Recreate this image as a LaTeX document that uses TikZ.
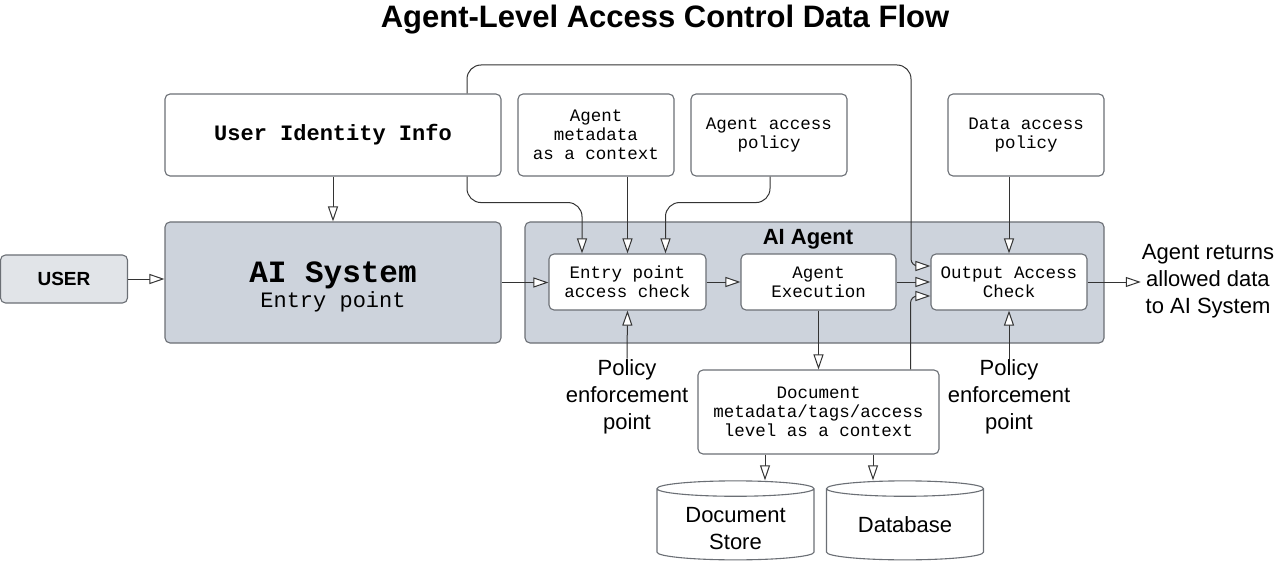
\documentclass[tikz,border=0pt]{standalone}
\usepackage{fontspec}
\setmainfont{Liberation Sans}
\setmonofont{Liberation Mono}
\usetikzlibrary{arrows.meta,shapes.geometric}

\definecolor{boxline}{HTML}{6B6F75}
\definecolor{sysfill}{HTML}{CDD3DC}
\definecolor{userfill}{HTML}{E1E4E8}
\definecolor{wire}{HTML}{333333}

\tikzset{
  box/.style={draw=boxline, line width=1.1pt, rounded corners=5pt, fill=white, align=center,
    inner sep=0pt, font=\fontsize{17.5}{19}\selectfont\ttfamily},
  grouped/.style={box, fill=sysfill},
  flow/.style={draw=wire, line width=1pt, rounded corners=14pt,
    -{Triangle[length=15pt,width=10pt,fill=white]}},
  lbl/.style={align=center, inner sep=1pt, font=\fontsize{22}{27}\selectfont},
  dbstore/.style={cylinder, shape border rotate=90, draw=boxline, line width=1.1pt, fill=white,
    text width=110pt, aspect=0.14, minimum width=157pt, minimum height=79pt, inner sep=0pt}
}

\begin{document}
\begin{tikzpicture}[x=1pt, y=-1pt]
                \useasboundingbox (0,0) rectangle (1280,572);

                % Title
                \node[font=\fontsize{31}{34}\selectfont\bfseries] (title) at (665,20) {Agent-Level Access Control Data Flow};

                % Containers
                \node[grouped, minimum width=579pt, minimum height=121pt] (agent) at (814.5,282.5) {};
                \node[font=\fontsize{22}{26}\selectfont\bfseries] (agentlbl) at (808,239) {AI Agent};
                \node[grouped, minimum width=336pt, minimum height=121pt,
                  label={[align=center, yshift=-4.5pt, font=\fontsize{22}{28}\selectfont\ttfamily]center:{{\fontsize{31}{28}\selectfont\bfseries AI System}\\[-3pt]Entry point}}] (aisys) at (333,282.5) {};
                \node[box, fill=userfill, minimum width=127pt, minimum height=48pt, font=\fontsize{19}{22}\selectfont\bfseries] (user) at (64,279) {USER};

                % Top row
                \node[box, minimum width=336pt, minimum height=82pt, font=\fontsize{22}{26}\selectfont\ttfamily\bfseries] (uid) at (333,135) {User Identity Info};
                \node[box, minimum width=156pt, minimum height=82pt] (meta) at (596,135) {Agent\\metadata\\as a context};
                \node[box, minimum width=156pt, minimum height=82pt] (apol) at (769,135) {Agent access\\policy};
                \node[box, minimum width=156pt, minimum height=82pt] (dpol) at (1026,135) {Data access\\policy};

                % Checks
                \node[box, minimum width=157pt, minimum height=56pt] (entry) at (627.5,282) {Entry point\\access check};
                \node[box, minimum width=155pt, minimum height=56pt] (exec) at (818.5,282) {Agent\\Execution};
                \node[box, minimum width=156pt, minimum height=56pt] (out) at (1009,282) {Output Access\\Check};

                % Lower part
                \node[box, minimum width=241pt, minimum height=84pt] (doc) at (818.5,412) {Document\\metadata/tags/access\\level as a context};
                \node[dbstore, label={[lbl, yshift=-4.5pt]center:{Document\\Store}}] (store) at (735.5,524.5) {};
                \node[dbstore, label={[lbl]center:Database}] (db) at (905,524.5) {};
                \node[lbl] (pe1) at (627,397) {Policy\\enforcement\\point};
                \node[lbl] (pe2) at (1009,397) {Policy\\enforcement\\point};
                \node[lbl] (ret) at (1208,281) {Agent returns\\allowed data\\to AI System};

                % Connectors
                \draw[flow] (user.east) -- (user.east -| aisys.west);
                \draw[flow] (uid.south) -- (aisys.north);
                \draw[flow] (aisys.east) -- (aisys.east -| entry.west);
                \draw[flow] ([xshift=134pt]uid.south) -- ++(0,26) -| ([xshift=-45.5pt]entry.north);
                \draw[flow] (meta.south -| entry.north) -- (entry.north);
                \draw[flow] ([xshift=1pt]apol.south) -- ++(0,26) -| ([xshift=38pt]entry.north);
                \draw[flow] (entry.east) -- (exec.west);
                \draw[flow] (exec.east) -- (out.west);
                \draw[flow] ([xshift=134pt]uid.north) |- (911,65) [rounded corners=7pt] |- ([yshift=16pt]out.west);
                \draw[flow, rounded corners=7pt] ([xshift=92pt]doc.north) |- ([yshift=-14pt]out.west);
                \draw[flow] (dpol.south -| out.north) -- (out.north);
                \draw[flow] (pe1.north) -- (entry.south);
                \draw[flow] (pe2.north) -- (out.south);
                \draw[flow] (out.east) -- (out.east -| ret.west);
                \draw[flow] (exec.south) -- (doc.north);
                \draw[flow] ([xshift=-53.5pt]doc.south) -- ([xshift=-53.5pt]doc.south |- store.top);
                \draw[flow] ([xshift=54.5pt]doc.south) -- ([xshift=54.5pt]doc.south |- db.top);
\end{tikzpicture}
\end{document}
